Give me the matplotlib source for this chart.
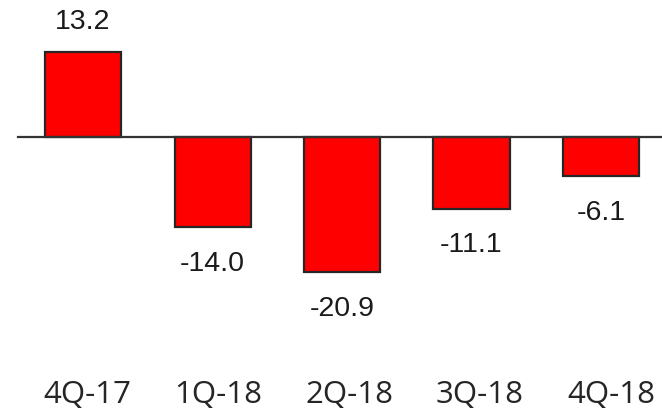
import matplotlib
matplotlib.use("Agg")
import matplotlib.pyplot as plt

quarters = ["4Q-17", "1Q-18", "2Q-18", "3Q-18", "4Q-18"]
values = [13.2, -14.0, -20.9, -11.1, -6.1]

fig = plt.figure(figsize=(6.62, 4.13), dpi=100)
ax = fig.add_axes([0, 0, 1, 1])
ax.set_xlim(-0.641, 4.471)
ax.set_ylim(-42.8, 21.24)
ax.axis("off")

x = list(range(len(values)))
ax.bar(x, values, width=0.587, color="#ff0000", edgecolor="#262626",
       linewidth=1.6, zorder=2)

# zero baseline
ax.plot([-0.502, 4.471], [0, 0], color="#333333", linewidth=1.6, zorder=3)

for xi, v in zip(x, values):
    if v >= 0:
        ax.text(xi, v + 4.6, f"{v:.1f}", ha="center", va="center",
                fontsize=20.5, family="Liberation Sans", color="#1a1a1a")
    else:
        ax.text(xi, v - 5.7, f"{v:.1f}", ha="center", va="center",
                fontsize=20.5, family="Liberation Sans", color="#1a1a1a")

# category labels sit slightly right of the bar centres
for xi, q in zip(x, quarters):
    ax.text(xi + 0.03 + 0.012 * xi, -40.0, q, ha="center", va="center",
            fontsize=22.5, family="Open Sans", color="#262626")

fig.savefig("out.png", dpi=100)
